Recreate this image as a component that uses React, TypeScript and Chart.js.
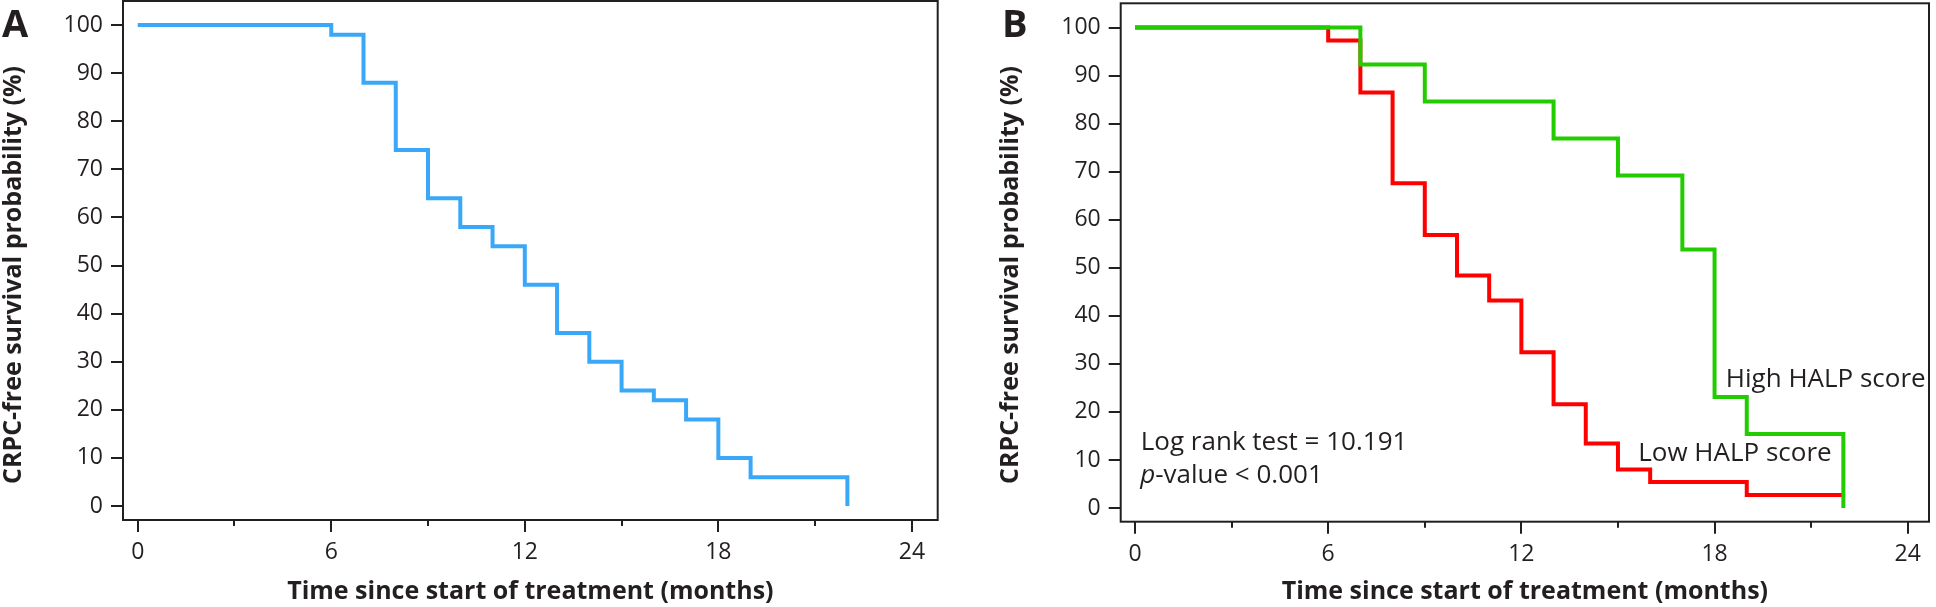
import React, { useEffect, useRef } from "react";
import { Chart, registerables } from "chart.js";

Chart.register(...registerables);

// ---------- data ----------
const X_TICKS = [0, 6, 12, 18, 24];
const X_MINOR_TICKS = [3, 9, 15, 21];
const Y_TICKS = [0, 10, 20, 30, 40, 50, 60, 70, 80, 90, 100];

const X_TITLE = "Time since start of treatment (months)";
const Y_TITLE = "CRPC-free survival probability (%)";

// Panel A – whole cohort
const A_TIMES = [0, 6, 7, 8, 9, 10, 11, 12, 13, 14, 15, 16, 17, 18, 19, 22];
const A_SURVIVAL = [100, 98, 88, 74, 64, 58, 54, 46, 36, 30, 24, 22, 18, 10, 6, 0];

// Panel B – Low HALP score
const LOW_TIMES = [0, 6, 7, 8, 9, 10, 11, 12, 13, 14, 15, 16, 19, 22];
const LOW_SURVIVAL = [100, 97.3, 86.5, 67.6, 56.8, 48.4, 43.2, 32.4, 21.6, 13.4, 8.0, 5.4, 2.7, 2.7];

// Panel B – High HALP score
const HIGH_TIMES = [0, 7, 9, 13, 15, 17, 18, 19, 22];
const HIGH_SURVIVAL = [100, 92.3, 84.6, 76.9, 69.2, 53.8, 23.1, 15.4, 0];

const LOW_LABEL = "Low HALP score";
const HIGH_LABEL = "High HALP score";
const LOGRANK_TEXT = "Log rank test = 10.191";
const PVALUE_P = "p";
const PVALUE_REST = "-value < 0.001";

// ---------- style ----------
const INK = "#231f20";
const FONT = "'Open Sans', 'Noto Sans', sans-serif";
const BLUE = "#3aa8f8";
const RED = "#ff0000";
const GREEN = "#22cc00";

type Part = { text: string; italic?: boolean };
type Note = { x: number; y: number; parts: Part[] };

type PanelOpts = {
  letter: string;
  letterX: number;
  letterY: number;
  yTitleX: number;
  yTitleY: number;
  notes: Note[];
};

const panelPlugin = {
  id: "panelDeco",
  afterDraw(chart: any, _args: any, opts: PanelOpts) {
    const { ctx, chartArea: a, scales } = chart;
    ctx.save();
    // frame
    ctx.strokeStyle = INK;
    ctx.lineWidth = 2;
    ctx.strokeRect(a.left, a.top, a.right - a.left, a.bottom - a.top);
    // minor x ticks
    ctx.beginPath();
    for (const v of X_MINOR_TICKS) {
      const px = Math.round(scales.x.getPixelForValue(v));
      ctx.moveTo(px, a.bottom);
      ctx.lineTo(px, a.bottom + 6);
    }
    ctx.stroke();
    // y title
    ctx.fillStyle = INK;
    ctx.font = `bold 25px ${FONT}`;
    ctx.textAlign = "center";
    ctx.textBaseline = "middle";
    ctx.save();
    ctx.translate(opts.yTitleX, opts.yTitleY);
    ctx.rotate(-Math.PI / 2);
    ctx.fillText(Y_TITLE, 0, 0);
    ctx.restore();
    // panel letter
    ctx.font = `bold 38px ${FONT}`;
    ctx.textAlign = "left";
    ctx.textBaseline = "alphabetic";
    ctx.fillText(opts.letter, opts.letterX, opts.letterY);
    // notes
    for (const n of opts.notes) {
      let px = scales.x.getPixelForValue(n.x);
      const py = scales.y.getPixelForValue(n.y);
      for (const p of n.parts) {
        ctx.font = `${p.italic ? "italic " : ""}26px ${FONT}`;
        ctx.fillText(p.text, px, py);
        px += ctx.measureText(p.text).width;
      }
    }
    ctx.restore();
  },
};

type Geometry = {
  width: number;
  top: number;
  right: number;
  yWidth: number;
  xHeight: number;
  xMin: number;
  xMax: number;
  yMin: number;
  yMax: number;
};

function series(times: number[], vals: number[], color: string, label: string) {
  return {
    label,
    data: times.map((t, i) => ({ x: t, y: vals[i] })),
    stepped: "before" as const,
    borderColor: color,
    backgroundColor: color,
    borderWidth: 4,
    pointRadius: 0,
    fill: false,
    borderCapStyle: "butt" as const,
    borderJoinStyle: "miter" as const,
  };
}

function buildConfig(g: Geometry, datasets: any[], deco: PanelOpts): any {
  return {
    type: "line",
    data: { datasets },
    plugins: [panelPlugin],
    options: {
      responsive: false,
      animation: false,
      devicePixelRatio: 1,
      layout: {
        autoPadding: false,
        padding: { left: 0, top: g.top, right: g.width - g.right, bottom: 0 },
      },
      plugins: {
        legend: { display: false },
        tooltip: { enabled: false },
        panelDeco: deco,
      },
      scales: {
        x: {
          type: "linear",
          min: g.xMin,
          max: g.xMax,
          afterBuildTicks: (axis: any) => {
            axis.ticks = X_TICKS.map((value) => ({ value }));
          },
          afterFit: (s: any) => {
            s.height = g.xHeight;
            s.paddingLeft = 0;
            s.paddingRight = 0;
          },
          grid: {
            display: true,
            drawOnChartArea: false,
            drawTicks: true,
            tickLength: 12,
            color: INK,
            lineWidth: 2,
          },
          border: { display: false },
          ticks: {
            autoSkip: false,
            maxRotation: 0,
            padding: 7,
            color: INK,
            font: { family: FONT, size: 23 },
          },
          title: {
            display: true,
            text: X_TITLE,
            color: INK,
            font: { family: FONT, size: 25, weight: "bold" },
            padding: { top: 0, bottom: 0 },
          },
        },
        y: {
          type: "linear",
          min: g.yMin,
          max: g.yMax,
          afterBuildTicks: (axis: any) => {
            axis.ticks = Y_TICKS.map((value) => ({ value }));
          },
          afterFit: (s: any) => {
            s.width = g.yWidth;
            s.paddingTop = 0;
            s.paddingBottom = 0;
          },
          grid: {
            display: true,
            drawOnChartArea: false,
            drawTicks: true,
            tickLength: 12,
            color: INK,
            lineWidth: 2,
          },
          border: { display: false },
          ticks: {
            padding: 8,
            color: INK,
            font: { family: FONT, size: 23 },
          },
        },
      },
    },
  };
}

function Panel({ left, width, config }: { left: number; width: number; config: () => any }) {
  const ref = useRef<HTMLCanvasElement>(null);
  useEffect(() => {
    const chart = new Chart(ref.current as HTMLCanvasElement, config());
    return () => chart.destroy();
  }, []);
  return (
    <canvas
      ref={ref}
      width={width}
      height={607}
      style={{ position: "absolute", left, top: 0, width, height: 607 }}
    />
  );
}

const configA = () =>
  buildConfig(
    { width: 968, top: 1, right: 937.7, yWidth: 123, xHeight: 87, xMin: -0.456, xMax: 24.8, yMin: -2.9, yMax: 105 },
    [series(A_TIMES, A_SURVIVAL, BLUE, "All patients")],
    { letter: "A", letterX: 2, letterY: 37, yTitleX: 14, yTitleY: 275, notes: [] }
  );

const configB = () =>
  buildConfig(
    { width: 968, top: 3.3, right: 961, yWidth: 152.7, xHeight: 85.3, xMin: -0.444, xMax: 24.66, yMin: -2.85, yMax: 105.04 },
    [
      series(HIGH_TIMES, HIGH_SURVIVAL, GREEN, HIGH_LABEL),
      series(LOW_TIMES, LOW_SURVIVAL, RED, LOW_LABEL),
    ],
    {
      letter: "B",
      letterX: 34,
      letterY: 37,
      yTitleX: 43,
      yTitleY: 275,
      notes: [
        { x: 18.35, y: 25.2, parts: [{ text: HIGH_LABEL }] },
        { x: 15.63, y: 9.8, parts: [{ text: LOW_LABEL }] },
        { x: 0.18, y: 12.1, parts: [{ text: LOGRANK_TEXT }] },
        { x: 0.16, y: 5.3, parts: [{ text: PVALUE_P, italic: true }, { text: PVALUE_REST }] },
      ],
    }
  );

export default function App() {
  return (
    <div style={{ position: "absolute", left: 0, top: 0, width: 1936, height: 607, background: "#fff" }}>
      <Panel left={0} width={968} config={configA} />
      <Panel left={968} width={968} config={configB} />
    </div>
  );
}
